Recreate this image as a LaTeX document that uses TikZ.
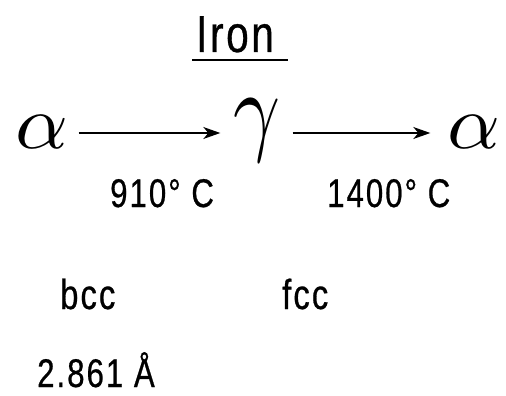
\documentclass[tikz,border=0pt]{standalone}
\usepackage{fontspec}
\setmainfont{Liberation Sans}
\newfontfamily\cfont[FakeStretch=0.78,LetterSpace=5,FakeBold=0.6]{Liberation Sans}
\usetikzlibrary{arrows.meta}
\tikzset{
  lbl/.style={inner sep=0pt, anchor=base west, font=\cfont\fontsize{40}{40}\selectfont},
  greek/.style={inner sep=0pt},
  phase/.style={line width=1.3pt, -{Stealth[length=17pt,width=12pt,inset=5pt]}},
}
\begin{document}
\begin{tikzpicture}[x=1pt,y=-1pt]
\useasboundingbox (0,0) rectangle (506,396);
\node[inner sep=0pt, anchor=base west, font=\cfont\fontsize{52}{52}\selectfont] (title) at (196,52) {Iron};
\draw[line width=1.3pt] (192,60) -- (288,60);
\node[greek] (a1) at (42,132) {\resizebox{53pt}{33pt}{$\alpha$}};
\node[greek] (g) at (257,131) {\resizebox*{47pt}{63pt}{$\gamma$}};
\node[greek] (a2) at (474,132) {\resizebox{53pt}{33pt}{$\alpha$}};
\draw[phase, shorten <=10pt, shorten >=13pt] (a1.east |- 0,133) -- (g.west |- 0,133);
\draw[phase, shorten <=12pt, shorten >=17pt] (g.east |- 0,133) -- (a2.west |- 0,133);
\node[lbl] (t1) at (110,207) {910° C};
\node[lbl] (t2) at (327,207) {1400° C};
\node[lbl, font=\cfont\fontsize{42}{42}\selectfont] (bcc) at (60,309) {bcc};
\node[lbl, font=\cfont\fontsize{42}{42}\selectfont] (fcc) at (282,309) {fcc};
\node[lbl] (lat) at (37,387) {2.861 Å};
\end{tikzpicture}
\end{document}
